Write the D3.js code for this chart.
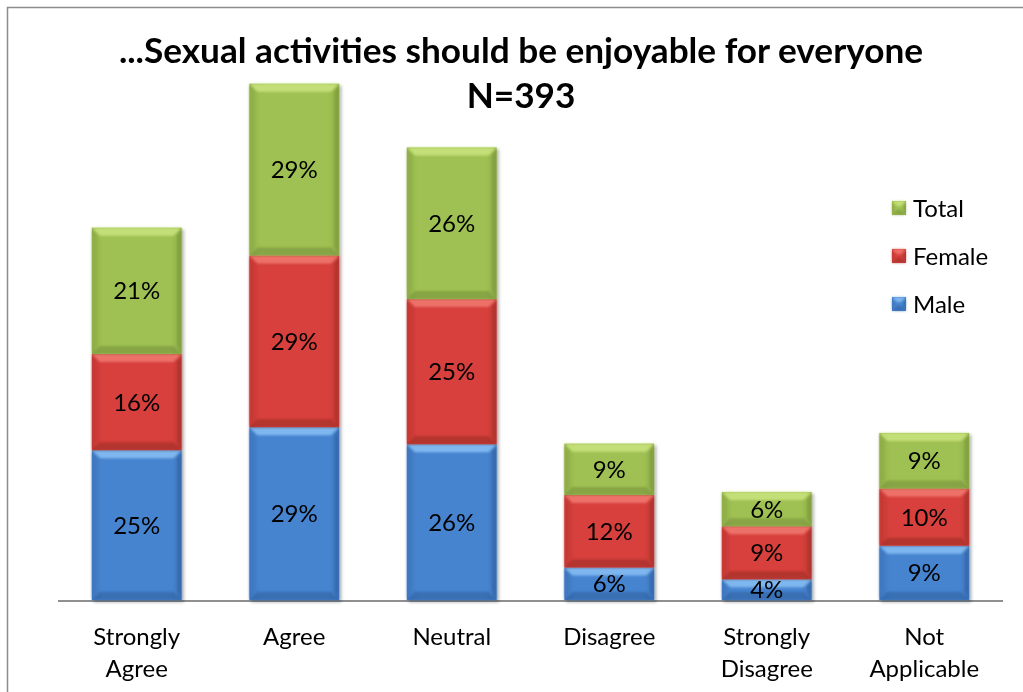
<!DOCTYPE html>
<html><head><meta charset="utf-8">
<script src="https://cdn.jsdelivr.net/npm/d3@7/dist/d3.min.js"></script>
<style>
html,body{margin:0;padding:0;background:#fff;}
svg{display:block;font-family:Lato,"Open Sans",sans-serif;}
</style></head>
<body><svg id="c" width="1023" height="692"></svg>
<script>
const categories = [["Strongly","Agree"],["Agree"],["Neutral"],["Disagree"],["Strongly","Disagree"],["Not","Applicable"]];
const seriesNames = ["Male","Female","Total"];
const male   = [25.4, 29.3, 26.4, 5.5, 3.5, 9.2];
const female = [16.3, 29.1, 24.6, 12.3, 9.0, 9.7];
const total  = [21.4, 29.1, 25.7, 8.7, 5.8, 9.4];
const titleLines = ["...Sexual activities should be enjoyable for everyone","N=393"];

const colors = {
  Male:   {main:"#4784d0", light:"#84bcf2", side:"#3f78c0", dark:"#2e5f9e"},
  Female: {main:"#d7403c", light:"#f0776f", side:"#c63a35", dark:"#9c2d2a"},
  Total:  {main:"#9fc152", light:"#c8e27c", side:"#8fae48", dark:"#76933a"}
};

const svg = d3.select("#c");
const defs = svg.append("defs");
const f = defs.append("filter").attr("id","sh").attr("x","-10%").attr("y","-10%").attr("width","130%").attr("height","130%");
f.append("feDropShadow").attr("dx",2).attr("dy",2).attr("stdDeviation",1.8).attr("flood-color","#000").attr("flood-opacity",0.3);
const bl = defs.append("filter").attr("id","soft");
bl.append("feGaussianBlur").attr("stdDeviation",0.8);

Object.entries(colors).forEach(([k,c])=>{
  const g = defs.append("linearGradient").attr("id","g"+k).attr("x1",0).attr("x2",1).attr("y1",0).attr("y2",0);
  g.append("stop").attr("offset","0%").attr("stop-color",c.side);
  g.append("stop").attr("offset","12%").attr("stop-color",c.main);
  g.append("stop").attr("offset","88%").attr("stop-color",c.main);
  g.append("stop").attr("offset","100%").attr("stop-color",c.side);
});

// chart border
svg.append("rect").attr("x",7.5).attr("y",7.5).attr("width",1200).attr("height",1000)
  .attr("fill","none").attr("stroke","#8c8c8c").attr("stroke-width",1.5);

const x = d3.scaleBand().domain(d3.range(categories.length)).range([58,1003]).paddingInner(0.43).paddingOuter(0.215);
const y = d3.scaleLinear().domain([0,100]).range([600,10]);

const data = categories.map((c,i)=>({i, vals:[male[i],female[i],total[i]]}));
const stack = [];
data.forEach(d=>{
  let acc=0;
  d.vals.forEach((v,j)=>{ stack.push({i:d.i, s:seriesNames[j], v, y0:acc, y1:acc+v}); acc+=v; });
});

function bevel(g, x0, y0, w, h, c, b, gid){
  g.append("rect").attr("x",x0).attr("y",y0).attr("width",w).attr("height",h).attr("fill",`url(#${gid})`);
  const bb = Math.min(b, h/2.5, w/2.5);
  const inner = g.append("g").attr("filter","url(#soft)");
  inner.append("polygon").attr("points",[[x0,y0],[x0+w,y0],[x0+w-bb,y0+bb],[x0+bb,y0+bb]].join(" ")).attr("fill",c.light).attr("opacity",0.9);
  inner.append("polygon").attr("points",[[x0,y0+h],[x0+w,y0+h],[x0+w-bb,y0+h-bb],[x0+bb,y0+h-bb]].join(" ")).attr("fill",c.dark).attr("opacity",0.6);
  inner.append("polygon").attr("points",[[x0,y0],[x0+bb*0.6,y0+bb],[x0+bb*0.6,y0+h-bb],[x0,y0+h]].join(" ")).attr("fill",c.side).attr("opacity",0.8);
  inner.append("polygon").attr("points",[[x0+w,y0],[x0+w-bb*0.6,y0+bb],[x0+w-bb*0.6,y0+h-bb],[x0+w,y0+h]].join(" ")).attr("fill",c.dark).attr("opacity",0.55);
}

// axis line
svg.append("line").attr("x1",x.range()[0]).attr("x2",x.range()[1]).attr("y1",y(0)+1).attr("y2",y(0)+1)
  .attr("stroke","#8f8f8f").attr("stroke-width",2);

// bars
const barsG = svg.append("g").attr("filter","url(#sh)");
stack.forEach(d=>{
  const g = barsG.append("g");
  bevel(g, x(d.i), y(d.y1), x.bandwidth(), y(d.y0)-y(d.y1), colors[d.s], 8, "g"+d.s);
});
// labels
stack.forEach(d=>{
  svg.append("text").attr("x",x(d.i)+x.bandwidth()/2).attr("y",(y(d.y0)+y(d.y1))/2+8.5)
    .attr("text-anchor","middle").attr("font-size",24).attr("fill","#000").text(Math.round(d.v)+"%");
});

// category labels
categories.forEach((c,i)=>{
  const t = svg.append("text").attr("text-anchor","middle").attr("font-size",24).attr("fill","#000");
  c.forEach((line,k)=>{
    t.append("tspan").attr("x",x(i)+x.bandwidth()/2).attr("y",645+k*32).text(line);
  });
});

// title
svg.append("text").attr("x",521).attr("y",63).attr("text-anchor","middle").attr("font-size",35.2).attr("font-weight","bold").text(titleLines[0]);
svg.append("text").attr("x",521).attr("y",108).attr("text-anchor","middle").attr("font-size",35.2).attr("font-weight","bold").text(titleLines[1]);

// legend
const legendOrder = ["Total","Female","Male"];
legendOrder.forEach((s,k)=>{
  const ly = 201 + k*48;
  const g = svg.append("g");
  bevel(g, 892, ly, 14, 14, colors[s], 5, "g"+s);
  svg.append("text").attr("x",913).attr("y",ly+16).attr("font-size",24).text(s);
});
</script></body></html>
